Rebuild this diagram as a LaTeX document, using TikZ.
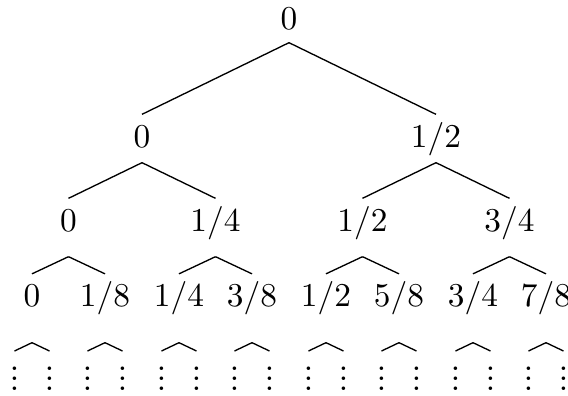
\documentclass[tikz,border=0pt]{standalone}
\newcommand{\tinyvdots}{\vbox{\baselineskip=3pt\lineskiplimit=0pt\kern4.5pt\hbox{.}\hbox{.}\hbox{.}}}
\begin{document}
\begin{tikzpicture}[x=0.3pt,y=-0.3pt,
  lbl/.style={inner sep=0pt,anchor=base,text height=9.6pt},
  lvl0/.style={lbl,text depth=3.9pt},
  lvl1/.style={lbl,text depth=4.5pt},
  lvl2/.style={lbl,text depth=7.5pt},
  lvl3/.style={lbl,text depth=10.65pt},
  dots/.style={inner sep=0pt,anchor=north},
  edge/.style={draw,line width=0.4pt}]
\useasboundingbox (0,0) rectangle (568,396);
% root and levels
\node[lvl0] (r) at (289,29) {$0$};
\node[lvl1] (a) at (142,147) {$0$};
\node[lvl1] (b) at (436,147) {$1/2$};
\node[lvl2] (aa) at (68.5,231) {$0$};
\node[lvl2] (ab) at (215.5,231) {$1/4$};
\node[lvl2] (ba) at (362.5,231) {$1/2$};
\node[lvl2] (bb) at (509.5,231) {$3/4$};
\node[lvl3] (l1) at (32,306.5) {$0$};
\node[lvl3] (l2) at (105,306.5) {$1/8$};
\node[lvl3] (l3) at (179,306.5) {$1/4$};
\node[lvl3] (l4) at (252,306.5) {$3/8$};
\node[lvl3] (l5) at (326,306.5) {$1/2$};
\node[lvl3] (l6) at (399,306.5) {$5/8$};
\node[lvl3] (l7) at (473,306.5) {$3/4$};
\node[lvl3] (l8) at (546,306.5) {$7/8$};
\draw[edge] (r.south) -- (a.north);
\draw[edge] (r.south) -- (b.north);
\draw[edge] (a.south) -- (aa.north);
\draw[edge] (a.south) -- (ab.north);
\draw[edge] (b.south) -- (ba.north);
\draw[edge] (b.south) -- (bb.north);
\draw[edge] (aa.south) -- (l1.north);
\draw[edge] (aa.south) -- (l2.north);
\draw[edge] (ab.south) -- (l3.north);
\draw[edge] (ab.south) -- (l4.north);
\draw[edge] (ba.south) -- (l5.north);
\draw[edge] (ba.south) -- (l6.north);
\draw[edge] (bb.south) -- (l7.north);
\draw[edge] (bb.south) -- (l8.north);
\foreach \i/\x in {1/32,2/105,3/179,4/252,5/326,6/399,7/473,8/546}{
  \node[dots] (v\i a) at (\x-17.5,351) {\tinyvdots};
  \node[dots] (v\i b) at (\x+17.5,351) {\tinyvdots};
  \draw[edge] (l\i.south) -- (v\i a.north);
  \draw[edge] (l\i.south) -- (v\i b.north);
}
\end{tikzpicture}
\end{document}
